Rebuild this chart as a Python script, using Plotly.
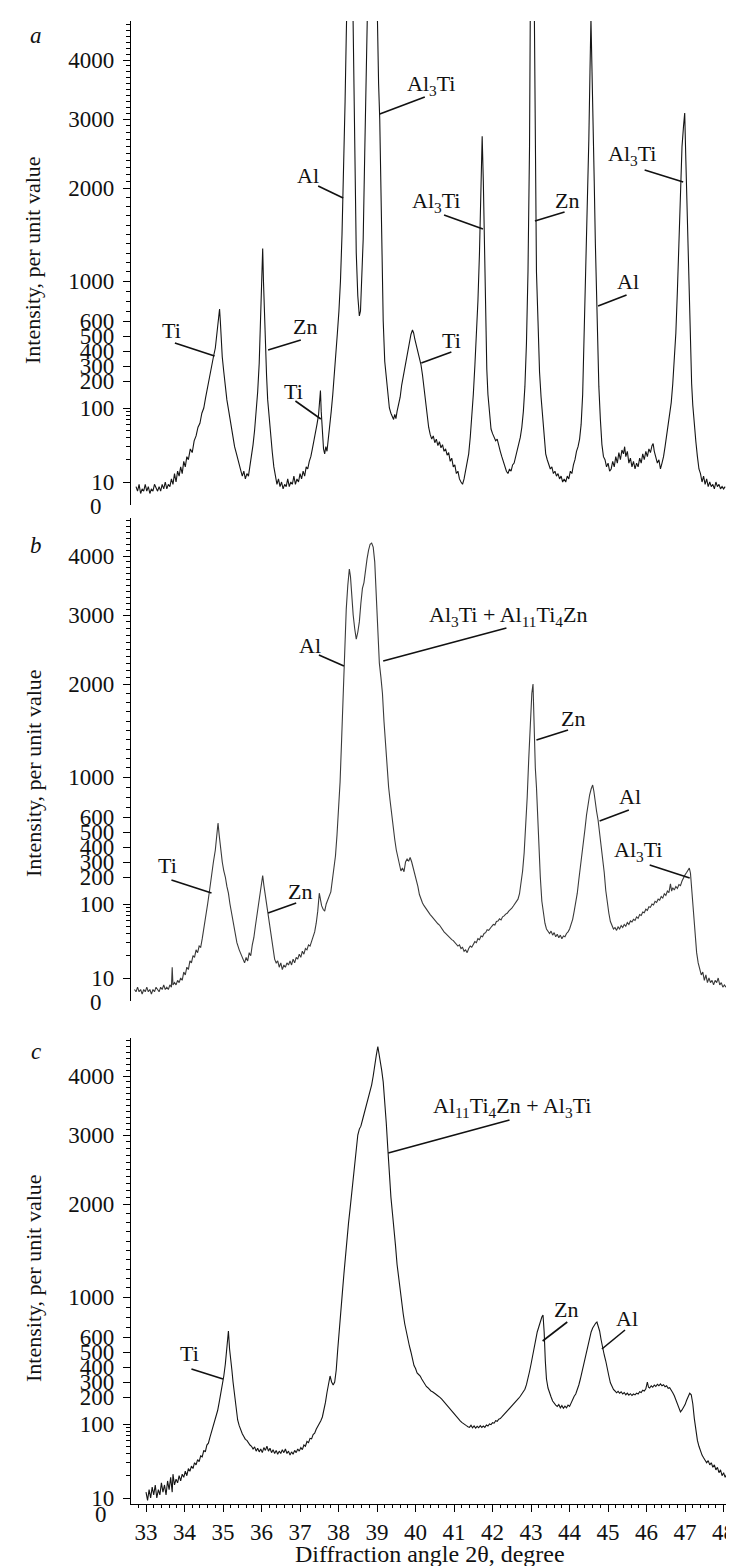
import numpy as np
import plotly.graph_objects as go

# ---------------- data (2theta in degree, intensity in per unit value) ----------------
panel_a = [
(32.74, 8), (32.78, 6), (32.82, 9), (32.86, 5), (32.90, 7), (32.94, 6), (32.98, 9), (33.02, 6), (33.06, 8), (33.10, 5),
(33.14, 7), (33.18, 6), (33.22, 9), (33.26, 7), (33.30, 6), (33.34, 8), (33.38, 6), (33.42, 9), (33.46, 7), (33.50, 10),
(33.54, 7), (33.58, 9), (33.62, 8), (33.66, 11), (33.70, 9), (33.74, 13), (33.78, 10), (33.82, 14), (33.86, 12), (33.90, 16),
(33.94, 13), (33.98, 19), (34.02, 16), (34.06, 22), (34.10, 20), (34.15, 28), (34.20, 25), (34.25, 36), (34.30, 42), (34.35, 55),
(34.40, 62), (34.45, 85), (34.50, 100), (34.55, 140), (34.60, 180), (34.65, 230), (34.70, 290), (34.75, 360), (34.80, 420), (34.84, 520),
(34.88, 640), (34.91, 720), (34.93, 600), (34.95, 480), (34.98, 360), (35.02, 260), (35.06, 180), (35.10, 130), (35.15, 90), (35.20, 60),
(35.25, 42), (35.30, 30), (35.35, 24), (35.40, 18), (35.45, 15), (35.50, 12), (35.54, 14), (35.58, 11), (35.62, 13), (35.66, 12),
(35.70, 16), (35.74, 22), (35.78, 32), (35.82, 50), (35.86, 85), (35.90, 160), (35.94, 320), (35.98, 700), (36.01, 1150), (36.03, 1350),
(36.05, 1000), (36.07, 700), (36.10, 420), (36.13, 240), (36.16, 130), (36.20, 70), (36.24, 40), (36.28, 25), (36.32, 16), (36.36, 12),
(36.40, 9), (36.44, 11), (36.48, 8), (36.52, 10), (36.56, 7), (36.60, 9), (36.64, 8), (36.68, 11), (36.72, 8), (36.76, 10),
(36.80, 9), (36.84, 12), (36.88, 9), (36.92, 11), (36.96, 10), (37.00, 13), (37.04, 11), (37.08, 14), (37.12, 12), (37.16, 16),
(37.20, 15), (37.24, 19), (37.28, 22), (37.32, 28), (37.36, 35), (37.40, 45), (37.44, 60), (37.48, 80), (37.51, 125), (37.53, 165),
(37.55, 90), (37.58, 45), (37.61, 28), (37.64, 24), (37.67, 30), (37.70, 26), (37.73, 35), (37.77, 55), (37.81, 90), (37.85, 150),
(37.89, 230), (37.93, 380), (37.97, 520), (38.01, 700), (38.05, 1000), (38.09, 1500), (38.13, 2200), (38.17, 3300), (38.20, 4400), (38.23, 6000),
(38.27, 8000), (38.31, 8000), (38.35, 6000), (38.38, 4300), (38.42, 2200), (38.46, 1300), (38.50, 850), (38.54, 650), (38.57, 700), (38.60, 950),
(38.64, 1450), (38.68, 2500), (38.72, 4200), (38.76, 7000), (38.82, 10000), (38.90, 10000), (38.96, 6500), (39.00, 4800), (39.04, 3600), (39.07, 3000),
(39.10, 2000), (39.13, 1100), (39.16, 600), (39.20, 330), (39.24, 210), (39.28, 140), (39.32, 100), (39.36, 85), (39.40, 78), (39.43, 70),
(39.46, 82), (39.49, 72), (39.52, 90), (39.56, 110), (39.60, 140), (39.64, 185), (39.68, 230), (39.72, 290), (39.76, 340), (39.80, 420),
(39.84, 470), (39.88, 510), (39.92, 540), (39.95, 520), (39.98, 480), (40.02, 440), (40.06, 380), (40.10, 350), (40.14, 310), (40.18, 240),
(40.22, 175), (40.26, 110), (40.30, 75), (40.34, 55), (40.38, 44), (40.42, 38), (40.46, 42), (40.50, 34), (40.54, 38), (40.58, 31),
(40.62, 35), (40.66, 29), (40.70, 32), (40.74, 26), (40.78, 28), (40.82, 23), (40.86, 25), (40.90, 19), (40.94, 21), (40.98, 16),
(41.02, 17), (41.06, 13), (41.10, 14), (41.14, 11), (41.18, 10), (41.22, 9), (41.26, 11), (41.30, 14), (41.34, 18), (41.38, 24),
(41.42, 40), (41.46, 75), (41.50, 150), (41.54, 300), (41.58, 480), (41.62, 800), (41.66, 1300), (41.70, 2100), (41.73, 2750), (41.76, 2100),
(41.79, 1300), (41.82, 600), (41.85, 280), (41.88, 150), (41.92, 80), (41.96, 52), (42.00, 45), (42.04, 40), (42.08, 36), (42.12, 38),
(42.16, 30), (42.20, 26), (42.24, 22), (42.28, 19), (42.32, 16), (42.36, 14), (42.40, 13), (42.44, 15), (42.48, 14), (42.52, 17),
(42.56, 18), (42.60, 22), (42.64, 26), (42.68, 32), (42.72, 40), (42.76, 55), (42.80, 90), (42.84, 180), (42.88, 450), (42.92, 1100),
(42.96, 2600), (42.99, 6000), (43.03, 9000), (43.07, 6000), (43.10, 2800), (43.14, 1100), (43.18, 600), (43.22, 260), (43.26, 140), (43.30, 70),
(43.34, 36), (43.38, 24), (43.42, 20), (43.46, 17), (43.50, 15), (43.54, 16), (43.58, 13), (43.62, 14), (43.66, 12), (43.70, 13),
(43.74, 11), (43.78, 12), (43.82, 10), (43.86, 11), (43.90, 10), (43.94, 12), (43.98, 11), (44.02, 14), (44.06, 13), (44.10, 17),
(44.14, 20), (44.18, 26), (44.22, 30), (44.26, 38), (44.30, 60), (44.34, 150), (44.38, 500), (44.42, 1000), (44.46, 1800), (44.50, 2700),
(44.53, 3800), (44.555, 4700), (44.58, 3900), (44.61, 3100), (44.64, 2100), (44.67, 1400), (44.70, 800), (44.73, 450), (44.76, 180), (44.80, 70),
(44.84, 32), (44.88, 22), (44.92, 20), (44.96, 16), (45.00, 18), (45.04, 14), (45.08, 15), (45.12, 19), (45.16, 16), (45.20, 22),
(45.24, 18), (45.28, 25), (45.32, 20), (45.36, 27), (45.40, 24), (45.43, 30), (45.46, 22), (45.50, 26), (45.54, 18), (45.58, 21),
(45.62, 16), (45.66, 19), (45.70, 15), (45.74, 18), (45.78, 16), (45.82, 21), (45.86, 18), (45.90, 24), (45.94, 20), (45.98, 26),
(46.02, 22), (46.06, 28), (46.10, 25), (46.14, 31), (46.17, 33), (46.20, 26), (46.24, 22), (46.28, 18), (46.32, 20), (46.36, 15),
(46.40, 18), (46.44, 22), (46.48, 30), (46.52, 42), (46.56, 60), (46.60, 85), (46.64, 120), (46.68, 190), (46.72, 320), (46.76, 520),
(46.80, 900), (46.84, 1500), (46.88, 2100), (46.92, 2600), (46.96, 2900), (46.99, 3100), (47.02, 2400), (47.05, 1800), (47.08, 1300), (47.11, 650),
(47.14, 330), (47.17, 190), (47.20, 110), (47.24, 55), (47.28, 35), (47.32, 22), (47.36, 15), (47.40, 13), (47.44, 10), (47.48, 12),
(47.52, 9), (47.56, 11), (47.60, 8), (47.64, 10), (47.68, 8), (47.72, 9), (47.76, 7), (47.80, 10), (47.84, 8), (47.88, 9),
(47.92, 7), (47.96, 8), (48.00, 7), (48.04, 8),
]

panel_b = [
(32.70, 5), (32.74, 4), (32.78, 6), (32.82, 4), (32.86, 5), (32.90, 3), (32.94, 5), (32.98, 4), (33.02, 6), (33.06, 4),
(33.10, 5), (33.14, 3), (33.18, 5), (33.22, 4), (33.26, 6), (33.30, 5), (33.34, 4), (33.38, 6), (33.42, 5), (33.46, 7),
(33.50, 5), (33.54, 6), (33.58, 5), (33.62, 7), (33.66, 6), (33.68, 14), (33.70, 7), (33.74, 8), (33.78, 7), (33.82, 9),
(33.86, 8), (33.90, 10), (33.94, 9), (33.98, 12), (34.02, 11), (34.06, 14), (34.10, 13), (34.14, 17), (34.18, 16), (34.22, 20),
(34.26, 19), (34.30, 24), (34.34, 22), (34.38, 27), (34.42, 26), (34.46, 34), (34.50, 45), (34.55, 65), (34.60, 100), (34.65, 150),
(34.70, 220), (34.75, 300), (34.80, 380), (34.84, 470), (34.87, 560), (34.90, 480), (34.94, 380), (34.98, 300), (35.02, 240), (35.06, 200),
(35.10, 165), (35.14, 140), (35.18, 100), (35.24, 65), (35.30, 42), (35.36, 30), (35.42, 24), (35.48, 20), (35.52, 18), (35.56, 16),
(35.60, 19), (35.64, 17), (35.68, 22), (35.72, 20), (35.76, 28), (35.80, 35), (35.84, 50), (35.88, 70), (35.92, 100), (35.96, 140),
(36.00, 180), (36.03, 210), (36.06, 170), (36.10, 130), (36.14, 90), (36.18, 60), (36.22, 42), (36.26, 30), (36.30, 22), (36.34, 18),
(36.38, 16), (36.42, 17), (36.46, 14), (36.50, 16), (36.54, 13), (36.58, 15), (36.62, 14), (36.66, 16), (36.70, 15), (36.74, 17),
(36.78, 15), (36.82, 18), (36.86, 16), (36.90, 19), (36.94, 18), (36.98, 21), (37.02, 19), (37.06, 23), (37.10, 21), (37.14, 25),
(37.18, 24), (37.22, 28), (37.26, 27), (37.30, 32), (37.34, 35), (37.38, 42), (37.42, 55), (37.46, 80), (37.50, 140), (37.53, 120),
(37.56, 95), (37.60, 85), (37.64, 80), (37.68, 100), (37.72, 120), (37.76, 130), (37.80, 145), (37.84, 190), (37.88, 260), (37.92, 340),
(37.96, 480), (38.00, 700), (38.04, 950), (38.08, 1400), (38.12, 1900), (38.16, 2500), (38.20, 3100), (38.24, 3500), (38.28, 3780), (38.31, 3650),
(38.34, 3350), (38.38, 3000), (38.42, 2800), (38.46, 2650), (38.50, 2750), (38.54, 2900), (38.58, 3200), (38.62, 3450), (38.66, 3550), (38.70, 3800),
(38.74, 3950), (38.78, 4100), (38.82, 4200), (38.86, 4220), (38.90, 4150), (38.94, 3900), (38.98, 3300), (39.02, 2700), (39.06, 2300), (39.10, 2100),
(39.14, 1900), (39.18, 1600), (39.22, 1350), (39.26, 1100), (39.30, 900), (39.34, 760), (39.38, 620), (39.42, 520), (39.46, 450), (39.50, 380),
(39.54, 330), (39.58, 280), (39.62, 240), (39.66, 260), (39.70, 235), (39.74, 300), (39.78, 320), (39.82, 305), (39.86, 330), (39.90, 300),
(39.94, 260), (39.98, 225), (40.02, 195), (40.06, 165), (40.10, 135), (40.14, 118), (40.18, 104), (40.22, 95), (40.26, 88), (40.30, 81),
(40.34, 76), (40.38, 72), (40.42, 68), (40.46, 64), (40.50, 60), (40.54, 57), (40.58, 54), (40.62, 52), (40.66, 48), (40.70, 46),
(40.74, 42), (40.78, 40), (40.82, 38), (40.86, 36), (40.90, 35), (40.94, 33), (40.98, 32), (41.02, 30), (41.06, 29), (41.10, 27),
(41.14, 28), (41.18, 25), (41.22, 26), (41.26, 23), (41.30, 24), (41.34, 22), (41.38, 25), (41.42, 27), (41.46, 26), (41.50, 29),
(41.54, 31), (41.58, 30), (41.62, 34), (41.66, 33), (41.70, 37), (41.74, 36), (41.78, 40), (41.82, 41), (41.86, 45), (41.90, 44),
(41.94, 48), (41.98, 50), (42.02, 53), (42.06, 52), (42.10, 58), (42.14, 59), (42.18, 63), (42.22, 61), (42.26, 67), (42.30, 69),
(42.34, 73), (42.38, 75), (42.42, 80), (42.46, 83), (42.50, 88), (42.54, 94), (42.58, 102), (42.62, 110), (42.66, 118), (42.70, 138),
(42.74, 172), (42.78, 240), (42.82, 360), (42.86, 520), (42.90, 800), (42.94, 1200), (42.98, 1600), (43.02, 1900), (43.05, 2000), (43.08, 1500),
(43.11, 1100), (43.14, 900), (43.17, 600), (43.20, 380), (43.24, 200), (43.28, 110), (43.32, 75), (43.36, 55), (43.40, 46), (43.44, 42),
(43.48, 40), (43.52, 43), (43.56, 38), (43.60, 41), (43.64, 36), (43.68, 39), (43.72, 35), (43.76, 38), (43.80, 34), (43.84, 37),
(43.88, 36), (43.92, 40), (43.96, 42), (44.00, 46), (44.04, 52), (44.08, 62), (44.12, 80), (44.16, 105), (44.20, 140), (44.24, 190),
(44.28, 260), (44.32, 340), (44.36, 420), (44.40, 520), (44.44, 620), (44.48, 730), (44.52, 820), (44.56, 880), (44.60, 920), (44.63, 860),
(44.66, 760), (44.70, 660), (44.74, 580), (44.78, 500), (44.82, 420), (44.86, 320), (44.90, 230), (44.94, 150), (44.98, 100), (45.02, 75),
(45.06, 58), (45.10, 50), (45.14, 46), (45.18, 48), (45.22, 44), (45.26, 49), (45.30, 46), (45.34, 51), (45.38, 48), (45.42, 53),
(45.46, 50), (45.50, 56), (45.54, 53), (45.58, 59), (45.62, 57), (45.66, 62), (45.70, 60), (45.74, 67), (45.78, 64), (45.82, 72),
(45.86, 70), (45.90, 78), (45.94, 76), (45.98, 85), (46.02, 82), (46.06, 92), (46.10, 90), (46.14, 100), (46.18, 97), (46.22, 110),
(46.26, 106), (46.30, 118), (46.34, 114), (46.38, 128), (46.42, 122), (46.46, 138), (46.50, 132), (46.54, 148), (46.58, 142), (46.62, 175),
(46.65, 148), (46.68, 160), (46.72, 152), (46.76, 165), (46.80, 158), (46.84, 172), (46.88, 168), (46.92, 185), (46.96, 200), (47.00, 215),
(47.04, 230), (47.08, 250), (47.11, 260), (47.14, 225), (47.17, 160), (47.20, 100), (47.23, 58), (47.26, 35), (47.30, 22), (47.34, 16),
(47.38, 13), (47.42, 11), (47.46, 12), (47.50, 9), (47.54, 11), (47.58, 8), (47.62, 10), (47.66, 8), (47.70, 9), (47.74, 7),
(47.78, 9), (47.82, 8), (47.86, 10), (47.90, 7), (47.94, 8), (47.98, 6), (48.02, 7), (48.06, 6),
]

panel_c = [
(33.00, 12), (33.04, 9), (33.08, 13), (33.12, 10), (33.16, 14), (33.20, 11), (33.24, 15), (33.28, 10), (33.32, 13), (33.36, 11),
(33.40, 16), (33.44, 12), (33.48, 15), (33.52, 11), (33.56, 17), (33.60, 13), (33.64, 19), (33.68, 12), (33.70, 21), (33.74, 15),
(33.78, 18), (33.82, 16), (33.86, 20), (33.90, 17), (33.94, 21), (33.98, 19), (34.02, 23), (34.06, 20), (34.10, 25), (34.14, 23),
(34.18, 27), (34.22, 25), (34.26, 30), (34.30, 28), (34.34, 33), (34.38, 31), (34.42, 37), (34.46, 36), (34.50, 44), (34.54, 42),
(34.58, 52), (34.62, 55), (34.66, 66), (34.70, 78), (34.74, 95), (34.78, 110), (34.82, 135), (34.86, 150), (34.90, 180), (34.94, 220),
(34.98, 280), (35.02, 340), (35.06, 420), (35.10, 520), (35.14, 660), (35.17, 520), (35.20, 420), (35.23, 380), (35.26, 300), (35.30, 220),
(35.34, 150), (35.38, 115), (35.42, 95), (35.46, 82), (35.50, 74), (35.54, 68), (35.58, 62), (35.62, 60), (35.66, 55), (35.70, 52),
(35.74, 50), (35.78, 46), (35.82, 49), (35.86, 43), (35.90, 47), (35.94, 42), (35.98, 46), (36.02, 41), (36.06, 48), (36.10, 44),
(36.14, 50), (36.18, 43), (36.22, 47), (36.26, 41), (36.30, 45), (36.34, 40), (36.38, 44), (36.42, 39), (36.46, 43), (36.50, 40),
(36.54, 45), (36.58, 41), (36.62, 46), (36.66, 40), (36.70, 43), (36.74, 38), (36.78, 42), (36.82, 39), (36.86, 44), (36.90, 41),
(36.94, 46), (36.98, 43), (37.02, 48), (37.06, 45), (37.10, 52), (37.14, 50), (37.18, 58), (37.22, 56), (37.26, 64), (37.30, 63),
(37.34, 72), (37.38, 75), (37.42, 85), (37.46, 92), (37.50, 100), (37.54, 112), (37.58, 126), (37.62, 150), (37.66, 180), (37.70, 230),
(37.74, 300), (37.78, 340), (37.82, 300), (37.86, 280), (37.90, 300), (37.94, 380), (37.98, 520), (38.02, 700), (38.06, 880), (38.10, 1050),
(38.14, 1250), (38.18, 1450), (38.22, 1650), (38.26, 1800), (38.30, 1950), (38.34, 2150), (38.38, 2400), (38.42, 2650), (38.46, 2850), (38.50, 3000),
(38.54, 3100), (38.58, 3150), (38.62, 3250), (38.66, 3350), (38.70, 3400), (38.74, 3500), (38.78, 3600), (38.82, 3700), (38.86, 3850), (38.90, 4000),
(38.94, 4200), (38.98, 4350), (39.02, 4500), (39.05, 4400), (39.08, 4250), (39.12, 4100), (39.16, 3900), (39.20, 3600), (39.24, 3200), (39.28, 2800),
(39.32, 2400), (39.36, 2100), (39.40, 1900), (39.44, 1750), (39.48, 1550), (39.52, 1350), (39.56, 1200), (39.60, 1050), (39.64, 950), (39.68, 830),
(39.72, 730), (39.76, 650), (39.80, 590), (39.84, 540), (39.88, 500), (39.92, 450), (39.96, 410), (40.00, 390), (40.04, 360), (40.08, 350),
(40.12, 340), (40.16, 320), (40.20, 300), (40.24, 285), (40.28, 270), (40.32, 262), (40.36, 250), (40.40, 240), (40.44, 235), (40.48, 225),
(40.52, 220), (40.56, 212), (40.60, 206), (40.64, 198), (40.68, 192), (40.72, 185), (40.76, 180), (40.80, 172), (40.84, 166), (40.88, 158),
(40.92, 152), (40.96, 146), (41.00, 140), (41.04, 132), (41.08, 126), (41.12, 118), (41.16, 112), (41.20, 106), (41.24, 101), (41.28, 98),
(41.32, 95), (41.36, 92), (41.40, 90), (41.44, 96), (41.48, 89), (41.52, 94), (41.56, 88), (41.60, 93), (41.64, 89), (41.68, 95),
(41.72, 90), (41.76, 94), (41.80, 90), (41.84, 97), (41.88, 94), (41.92, 100), (41.96, 98), (42.00, 105), (42.04, 103), (42.08, 112),
(42.12, 110), (42.16, 118), (42.20, 120), (42.24, 126), (42.28, 132), (42.32, 138), (42.36, 146), (42.40, 150), (42.44, 160), (42.48, 166),
(42.52, 172), (42.56, 176), (42.60, 184), (42.64, 188), (42.68, 196), (42.72, 205), (42.76, 218), (42.80, 232), (42.84, 252), (42.88, 282),
(42.92, 320), (42.96, 370), (43.00, 420), (43.04, 480), (43.08, 540), (43.12, 600), (43.16, 650), (43.20, 700), (43.24, 760), (43.28, 800),
(43.31, 820), (43.34, 650), (43.37, 440), (43.40, 320), (43.44, 260), (43.48, 220), (43.52, 200), (43.56, 185), (43.60, 175), (43.64, 170),
(43.68, 165), (43.72, 172), (43.76, 160), (43.80, 168), (43.84, 158), (43.88, 166), (43.92, 160), (43.96, 170), (44.00, 165), (44.04, 180),
(44.08, 190), (44.12, 205), (44.16, 220), (44.20, 245), (44.24, 280), (44.28, 320), (44.32, 365), (44.36, 410), (44.40, 460), (44.44, 510),
(44.48, 560), (44.52, 610), (44.56, 650), (44.60, 690), (44.64, 720), (44.68, 740), (44.71, 750), (44.74, 720), (44.78, 660), (44.82, 580),
(44.86, 520), (44.90, 480), (44.94, 440), (44.98, 400), (45.02, 340), (45.06, 295), (45.10, 270), (45.14, 250), (45.18, 240), (45.22, 228),
(45.26, 238), (45.30, 225), (45.34, 235), (45.38, 220), (45.42, 230), (45.46, 215), (45.50, 226), (45.54, 212), (45.58, 222), (45.62, 210),
(45.66, 220), (45.70, 214), (45.74, 226), (45.78, 220), (45.82, 235), (45.86, 230), (45.90, 245), (45.94, 240), (45.98, 255), (46.02, 300),
(46.05, 265), (46.08, 260), (46.12, 275), (46.16, 265), (46.20, 280), (46.24, 270), (46.28, 285), (46.32, 275), (46.36, 288), (46.40, 275),
(46.44, 282), (46.48, 268), (46.52, 275), (46.56, 258), (46.60, 262), (46.64, 240), (46.68, 228), (46.72, 208), (46.76, 190), (46.80, 175),
(46.84, 165), (46.88, 145), (46.92, 152), (46.96, 160), (47.00, 172), (47.04, 188), (47.08, 208), (47.12, 225), (47.16, 215), (47.20, 175),
(47.24, 120), (47.28, 80), (47.32, 60), (47.36, 50), (47.40, 42), (47.44, 38), (47.48, 35), (47.52, 33), (47.56, 30), (47.60, 32),
(47.64, 28), (47.68, 30), (47.72, 26), (47.76, 28), (47.80, 24), (47.84, 26), (47.88, 22), (47.92, 24), (47.96, 20), (48.00, 22),
(48.04, 19), (48.08, 21), (48.12, 18),
]

y_tick_values = [10, 100, 200, 300, 400, 500, 600, 1000, 2000, 3000, 4000]
y_tick_labels = ["10", "100", "200", "300", "400", "500", "600", "1000", "2000", "3000", "4000"]
y_minor_values = ([20, 30, 40, 50, 60, 70, 80, 90, 700, 800, 900]
                  + list(range(1100, 2000, 100)) + list(range(2100, 3000, 100))
                  + list(range(3100, 4000, 100)) + list(range(4100, 4700, 100)))
x_tick_values = list(range(33, 49))

# ---------------- the (non-standard) intensity scale of the original axis ----------------
_SCALE_V = [0, 10, 100, 200, 300, 400, 500, 600, 1000, 2000, 3000, 4000, 20000]
_SCALE_U = [0, 23, 97, 124, 139, 154, 169, 184, 224, 317, 386, 445, 1389]


def to_axis(v):
    v = np.asarray(v, dtype=float)
    out = np.interp(v, _SCALE_V, _SCALE_U)
    m = (v > 10) & (v < 100)
    out[m] = 23 + 74 * np.log10(v[m] / 10.0)
    return out


SERIF = "Liberation Serif, Times New Roman, serif"
W, H = 734, 1566
ML, MR, MT, MB = 123, 3, 13, 70
PW, PH = W - ML - MR, H - MT - MB


def px(xp):
    return (xp - ML) / PW


def py(yp):
    return (H - MB - yp) / PH


fig = go.Figure()
panels = [("x", "y", panel_a, "#151515"), ("x2", "y2", panel_b, "#3a3a3a"), ("x3", "y3", panel_c, "#151515")]
for xa, ya, data, col in panels:
    deg = [p[0] for p in data]
    val = [p[1] for p in data]
    fig.add_trace(go.Scatter(x=deg, y=to_axis(val), mode="lines", xaxis=xa, yaxis=ya,
                             line=dict(color=col, width=1.1), showlegend=False, hoverinfo="skip"))

yticks_u = list(to_axis(y_tick_values))
yminor_u = list(to_axis(y_minor_values))


def yaxis_cfg(domain, rng, anchor):
    return dict(domain=domain, range=rng, anchor=anchor, showline=True, linecolor="black", linewidth=1.2,
                ticks="outside", ticklen=7, tickwidth=1, tickcolor="black", tickmode="array",
                tickvals=yticks_u, ticktext=y_tick_labels, showgrid=False, zeroline=False,
                ticklabelstandoff=4,
                tickfont=dict(family=SERIF, size=23, color="#111"),
                minor=dict(tickmode="array", tickvals=yminor_u, ticks="outside", ticklen=4,
                           tickwidth=1, tickcolor="black", showgrid=False))


XR = [32.61, 48.40]
hidden_x = dict(range=XR, visible=False, showgrid=False, zeroline=False)

fig.update_layout(
    width=W, height=H, margin=dict(l=ML, r=MR, t=MT, b=MB),
    paper_bgcolor="white", plot_bgcolor="white", showlegend=False,
    xaxis=dict(hidden_x, domain=[0, 1], anchor="y"),
    xaxis2=dict(hidden_x, domain=[0, 1], anchor="y2"),
    xaxis3=dict(domain=[0, 1], range=XR, anchor="y3", showline=True, linecolor="black", linewidth=1.2,
                ticks="outside", ticklen=7, tickwidth=1, tickcolor="black", tickmode="array",
                tickvals=x_tick_values, ticktext=[str(t) for t in x_tick_values],
                showgrid=False, zeroline=False, tickfont=dict(family=SERIF, size=23, color="#111"),
                minor=dict(dtick=0.2, tick0=33, ticks="outside", ticklen=3, tickwidth=1,
                           tickcolor="black", showgrid=False)),
    yaxis=yaxis_cfg([py(497), 1.0], [0, 484], "x"),
    yaxis2=yaxis_cfg([py(993), py(510)], [0, 483], "x2"),
    yaxis3=yaxis_cfg([0, py(1030)], [17, 483], "x3"),
)

# ---------------- text: titles, panel letters, zero labels ----------------
ann = []
for cy in (252, 765, 1270):
    ann.append(dict(text="Intensity, per unit value", xref="paper", yref="paper", x=px(25), y=py(cy),
                    textangle=-90, showarrow=False, xanchor="center", yanchor="middle",
                    font=dict(family=SERIF, size=22, color="#111")))
for letter, cy in (("a", 27), ("b", 537), ("c", 1043)):
    ann.append(dict(text="<i>%s</i>" % letter, xref="paper", yref="paper", x=px(28), y=py(cy),
                    showarrow=False, xanchor="center", yanchor="middle",
                    font=dict(family=SERIF, size=23, color="#111")))
for cx, cy in ((88, 498), (88, 995), (93, 1506)):
    ann.append(dict(text="0", xref="paper", yref="paper", x=px(cx), y=py(cy), showarrow=False,
                    xanchor="center", yanchor="middle", font=dict(family=SERIF, size=23, color="#111")))
ann.append(dict(text="Diffraction angle 2θ, degree", xref="paper", yref="paper", x=px(422), y=py(1546),
                showarrow=False, xanchor="center", yanchor="middle",
                font=dict(family=SERIF, size=24, color="#111")))

A3 = "Al<sub>3</sub>Ti"
peak_labels = {
    ("x", "y"): [
        (A3, 40.39, 420, 39.07, 391, 40.24, 408),
        ("Al", 37.21, 330, 37.47, 319, 38.12, 307),
        (A3, 40.54, 303, 40.74, 290, 41.75, 276),
        ("Zn", 43.92, 305, 43.87, 293, 43.10, 284),
        (A3, 45.62, 350, 45.95, 335, 46.95, 323),
        ("Al", 45.52, 224, 45.48, 210, 44.74, 199),
        ("Zn", 37.12, 179, 37.02, 165, 36.17, 155),
        ("Ti", 40.93, 165, 40.93, 153, 40.15, 142),
        ("Ti", 36.82, 114, 36.88, 104, 37.54, 86),
        ("Ti", 33.66, 175, 33.75, 162, 34.78, 149),
    ],
    ("x2", "y2"): [
        ("Al", 37.25, 356, 37.49, 346, 38.14, 335),
        (A3 + " + Al<sub>11</sub>Ti<sub>4</sub>Zn", 42.40, 385, 42.36, 373, 39.16, 340),
        ("Zn", 44.09, 283, 43.96, 271, 43.14, 261),
        ("Al", 45.56, 205, 45.54, 191, 44.78, 180),
        (A3, 45.78, 150, 46.08, 136, 47.12, 123),
        ("Zn", 36.99, 110, 36.90, 98, 36.17, 88),
        ("Ti", 33.57, 136, 33.66, 121, 34.70, 108),
    ],
    ("x3", "y3"): [
        ("Al<sub>11</sub>Ti<sub>4</sub>Zn + " + A3, 42.51, 414, 42.44, 401, 39.29, 368),
        ("Zn", 43.91, 212, 43.94, 199, 43.30, 180),
        ("Al", 45.49, 203, 45.44, 191, 44.84, 172),
        ("Ti", 34.14, 168, 34.18, 152, 35.00, 142),
    ],
}

shapes = []
for (xa, ya), items in peak_labels.items():
    for text, tx, tu, x0, u0, x1, u1 in items:
        ann.append(dict(text=text, xref=xa, yref=ya, x=tx, y=tu, showarrow=False,
                        xanchor="center", yanchor="middle", font=dict(family=SERIF, size=22, color="#111")))
        shapes.append(dict(type="line", xref=xa, yref=ya, x0=x0, y0=u0, x1=x1, y1=u1,
                           line=dict(color="#111", width=1.6)))

fig.update_layout(annotations=ann, shapes=shapes)
fig.write_html("out.html")
